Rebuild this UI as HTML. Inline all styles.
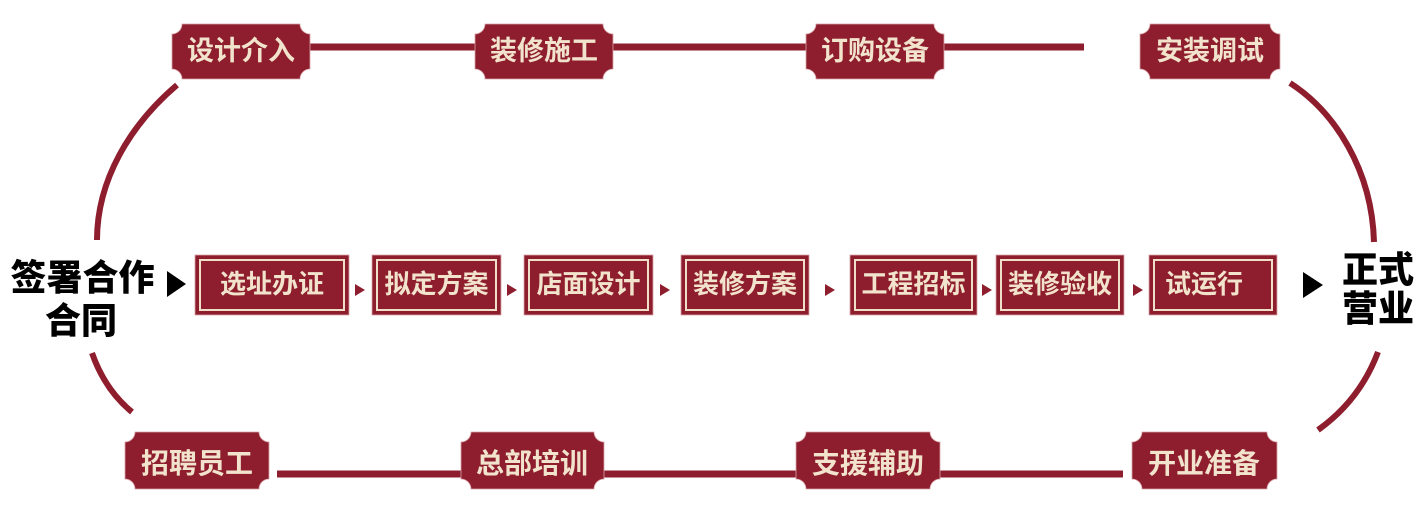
<!DOCTYPE html>
<html>
<head>
<meta charset="utf-8">
<style>
  html, body { margin: 0; padding: 0; background: #ffffff; }
  body { width: 1422px; height: 506px; overflow: hidden; }
  svg { display: block; }
  .tk { font-family: "Liberation Sans", "Noto Sans CJK SC", sans-serif; font-weight: 700; fill: #f2e3cd; }
  .bk { font-family: "Liberation Sans", "Noto Sans CJK SC", sans-serif; font-weight: 900; fill: #000000; }
</style>
</head>
<body>
<svg width="1422" height="506" viewBox="0 0 1422 506" xmlns="http://www.w3.org/2000/svg">
  <!-- connecting lines -->
  <rect x="310" y="43.5" width="774" height="7" fill="#8e1e2d"/>
  <rect x="277" y="470.5" width="846" height="7" fill="#8e1e2d"/>

  <!-- arcs -->
  <g fill="none" stroke="#8e1e2d" stroke-width="6">
    <path d="M177,85 C130,125 97,180 97,240"/>
    <path d="M92,353 Q105,390 132,412"/>
    <path d="M1290,83 C1335,112 1372,170 1374,242"/>
    <path d="M1378,352 Q1360,400 1318,430"/>
  </g>

  <!-- top tickets -->
  <g fill="#8e1e2d" stroke="#d8a3a9" stroke-width="0.8">
    <path d="M182,24 H300 A10 10 0 0 0 310,34 V69 A10 10 0 0 0 300,79 H182 A10 10 0 0 0 172,69 V34 A10 10 0 0 0 182,24 Z"/>
    <path d="M485,24 H603 A10 10 0 0 0 613,34 V69 A10 10 0 0 0 603,79 H485 A10 10 0 0 0 475,69 V34 A10 10 0 0 0 485,24 Z"/>
    <path d="M816,24 H934 A10 10 0 0 0 944,34 V69 A10 10 0 0 0 934,79 H816 A10 10 0 0 0 806,69 V34 A10 10 0 0 0 816,24 Z"/>
    <path d="M1150,24 H1270 A10 10 0 0 0 1280,34 V69 A10 10 0 0 0 1270,79 H1150 A10 10 0 0 0 1140,69 V34 A10 10 0 0 0 1150,24 Z"/>
    <!-- bottom tickets -->
    <path d="M135,432 H259 A10 10 0 0 0 269,442 V479 A10 10 0 0 0 259,489 H135 A10 10 0 0 0 125,479 V442 A10 10 0 0 0 135,432 Z"/>
    <path d="M471,432 H594 A10 10 0 0 0 604,442 V479 A10 10 0 0 0 594,489 H471 A10 10 0 0 0 461,479 V442 A10 10 0 0 0 471,432 Z"/>
    <path d="M806,432 H930 A10 10 0 0 0 940,442 V479 A10 10 0 0 0 930,489 H806 A10 10 0 0 0 796,479 V442 A10 10 0 0 0 806,432 Z"/>
    <path d="M1142,432 H1267 A10 10 0 0 0 1277,442 V479 A10 10 0 0 0 1267,489 H1142 A10 10 0 0 0 1132,479 V442 A10 10 0 0 0 1142,432 Z"/>
  </g>

  <!-- ticket texts -->
  <g class="tk" font-size="27" text-anchor="middle">
    <text x="241" y="60">设计介入</text>
    <text x="544" y="60">装修施工</text>
    <text x="875" y="60">订购设备</text>
    <text x="1210" y="60">安装调试</text>
  </g>
  <g class="tk" font-size="28" text-anchor="middle">
    <text x="197" y="473">招聘员工</text>
    <text x="532" y="473">总部培训</text>
    <text x="868" y="473">支援辅助</text>
    <text x="1204" y="473">开业准备</text>
  </g>

  <!-- middle process boxes -->
  <g>
    <g fill="#8e1e2d" stroke="#d8a3a9" stroke-width="0.8">
      <rect x="195" y="255" width="154" height="60"/>
      <rect x="372" y="255" width="129" height="60"/>
      <rect x="524" y="255" width="129" height="60"/>
      <rect x="681" y="255" width="128" height="60"/>
      <rect x="850" y="255" width="127" height="60"/>
      <rect x="996" y="255" width="128" height="60"/>
      <rect x="1149" y="255" width="128" height="60"/>
    </g>
    <g fill="none" stroke="#efdfc8" stroke-width="2">
      <rect x="200" y="260" width="144" height="50"/>
      <rect x="377" y="260" width="119" height="50"/>
      <rect x="529" y="260" width="119" height="50"/>
      <rect x="686" y="260" width="118" height="50"/>
      <rect x="855" y="260" width="117" height="50"/>
      <rect x="1001" y="260" width="118" height="50"/>
      <rect x="1154" y="260" width="118" height="50"/>
    </g>
    <g class="tk" font-size="26" text-anchor="middle">
      <text x="272" y="293">选址办证</text>
      <text x="436.5" y="293">拟定方案</text>
      <text x="588.5" y="293">店面设计</text>
      <text x="745" y="293">装修方案</text>
      <text x="913.5" y="293">工程招标</text>
      <text x="1060" y="293">装修验收</text>
      <text x="1204" y="293">试运行</text>
    </g>
  </g>

  <!-- small arrows -->
  <g fill="#8e1e2d">
    <polygon points="355,284 365,290 355,296"/>
    <polygon points="507,284 517,290 507,296"/>
    <polygon points="660,284 670,290 660,296"/>
    <polygon points="825,284 835,290 825,296"/>
    <polygon points="982,284 992,290 982,296"/>
    <polygon points="1133,284 1143,290 1133,296"/>
  </g>

  <!-- big black arrows -->
  <polygon points="167,271 186,284 167,297" fill="#000"/>
  <polygon points="1303,272 1323,285 1303,298" fill="#000"/>

  <!-- black texts -->
  <g class="bk" font-size="36" text-anchor="middle">
    <text x="82.5" y="290">签署合作</text>
    <text x="81" y="333">合同</text>
    <text x="1378" y="282">正式</text>
    <text x="1378" y="321">营业</text>
  </g>
</svg>
</body>
</html>
